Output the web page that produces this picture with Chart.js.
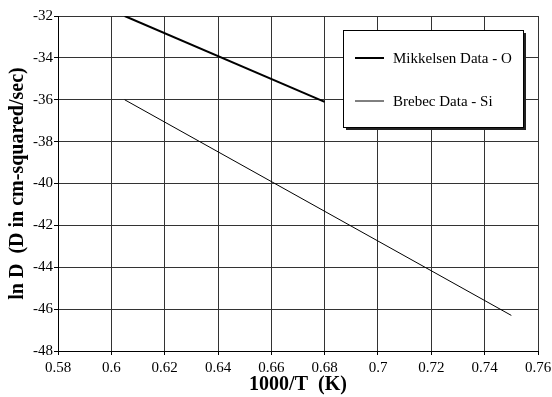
<!DOCTYPE html>
<html>
<head>
<meta charset="utf-8">
<script src="https://cdn.jsdelivr.net/npm/chart.js@4"></script>
<style>
  html, body { margin: 0; padding: 0; background: #fff; }
  #wrap { width: 552px; height: 397px; position: relative; }
</style>
</head>
<body>
<div id="wrap"><canvas id="diffChart"></canvas></div>
<script>
// values
let seriesNames = ["Mikkelsen Data - O", "Brebec Data - Si"];
let mikkelsenX = [0.605, 0.68];
let mikkelsenLnD = [-32, -36.1];
let brebecX = [0.605, 0.75];
let brebecLnD = [-36, -46.3];
let xTicks = [0.58, 0.6, 0.62, 0.64, 0.66, 0.68, 0.7, 0.72, 0.74, 0.76];
let yTicks = [-48, -46, -44, -42, -40, -38, -36, -34, -32];

const serif = "'Liberation Serif', 'DejaVu Serif', serif";

function toPoints(xs, ys) {
  return xs.map((x, i) => ({ x: x, y: ys[i] }));
}

// legend box drawn inside the plot, with a drop shadow
const boxLegend = {
  id: "boxLegend",
  afterDraw(chart) {
    const c = chart.ctx;
    const x = 343, y = 30, w = 180, h = 97;
    c.save();
    c.fillStyle = "#222";
    c.fillRect(x + 3, y + 3, w, h);
    c.fillStyle = "#fff";
    c.fillRect(x, y, w, h);
    c.strokeStyle = "#000";
    c.lineWidth = 1;
    c.strokeRect(x + 0.5, y + 0.5, w, h);
    c.font = "15px " + serif;
    c.textBaseline = "middle";
    chart.data.datasets.forEach((ds, i) => {
      const ly = y + 28 + i * 43;
      c.beginPath();
      c.strokeStyle = "#000";
      c.lineWidth = ds.borderWidth;
      c.moveTo(x + 12, ly);
      c.lineTo(x + 41, ly);
      c.stroke();
      c.fillStyle = "#000";
      c.fillText(ds.label, x + 50, ly + 1);
    });
    c.restore();
  },
};

new Chart(document.getElementById("diffChart"), {
  type: "scatter",
  data: {
    datasets: [
      {
        label: seriesNames[0],
        data: toPoints(mikkelsenX, mikkelsenLnD),
        showLine: true,
        borderColor: "#000",
        borderWidth: 2,
        pointRadius: 0,
      },
      {
        label: seriesNames[1],
        data: toPoints(brebecX, brebecLnD),
        showLine: true,
        borderColor: "#000",
        borderWidth: 1,
        pointRadius: 0,
      },
    ],
  },
  options: {
    responsive: true,
    maintainAspectRatio: false,
    animation: false,
    layout: { padding: { top: 16, right: 14, left: 6, bottom: 0 } },
    plugins: {
      legend: { display: false },
      tooltip: { enabled: false },
    },
    scales: {
      x: {
        type: "linear",
        min: 0.58,
        max: 0.76,
        afterBuildTicks: (s) => { s.ticks = xTicks.map((v) => ({ value: v })); },
        afterFit: (s) => { s.height = 46; s.paddingRight = 0; s.paddingLeft = 0; },
        ticks: {
          color: "#000",
          font: { family: serif, size: 15 },
          padding: 4,
          maxRotation: 0,
          callback: (v) => String(+v.toFixed(2)),
        },
        grid: { color: "#333", lineWidth: 1, tickLength: 4, tickColor: "#000" },
        border: { color: "#000", width: 1 },
        title: {
          display: true,
          text: "1000/T  (K)",
          color: "#000",
          font: { family: serif, size: 20, weight: "bold" },
          padding: { top: 0, bottom: 0 },
        },
      },
      y: {
        type: "linear",
        min: -48,
        max: -32,
        afterBuildTicks: (s) => { s.ticks = yTicks.map((v) => ({ value: v })); },
        afterFit: (s) => { s.width = 52; },
        ticks: {
          color: "#000",
          font: { family: serif, size: 15 },
          padding: 1,
        },
        grid: { color: "#333", lineWidth: 1, tickLength: 4, tickColor: "#000" },
        border: { color: "#000", width: 1 },
        title: {
          display: true,
          text: "ln D  (D in cm-squared/sec)",
          color: "#000",
          font: { family: serif, size: 20, weight: "bold" },
          padding: { top: 0, bottom: 0 },
        },
      },
    },
  },
  plugins: [boxLegend],
});
</script>
</body>
</html>
